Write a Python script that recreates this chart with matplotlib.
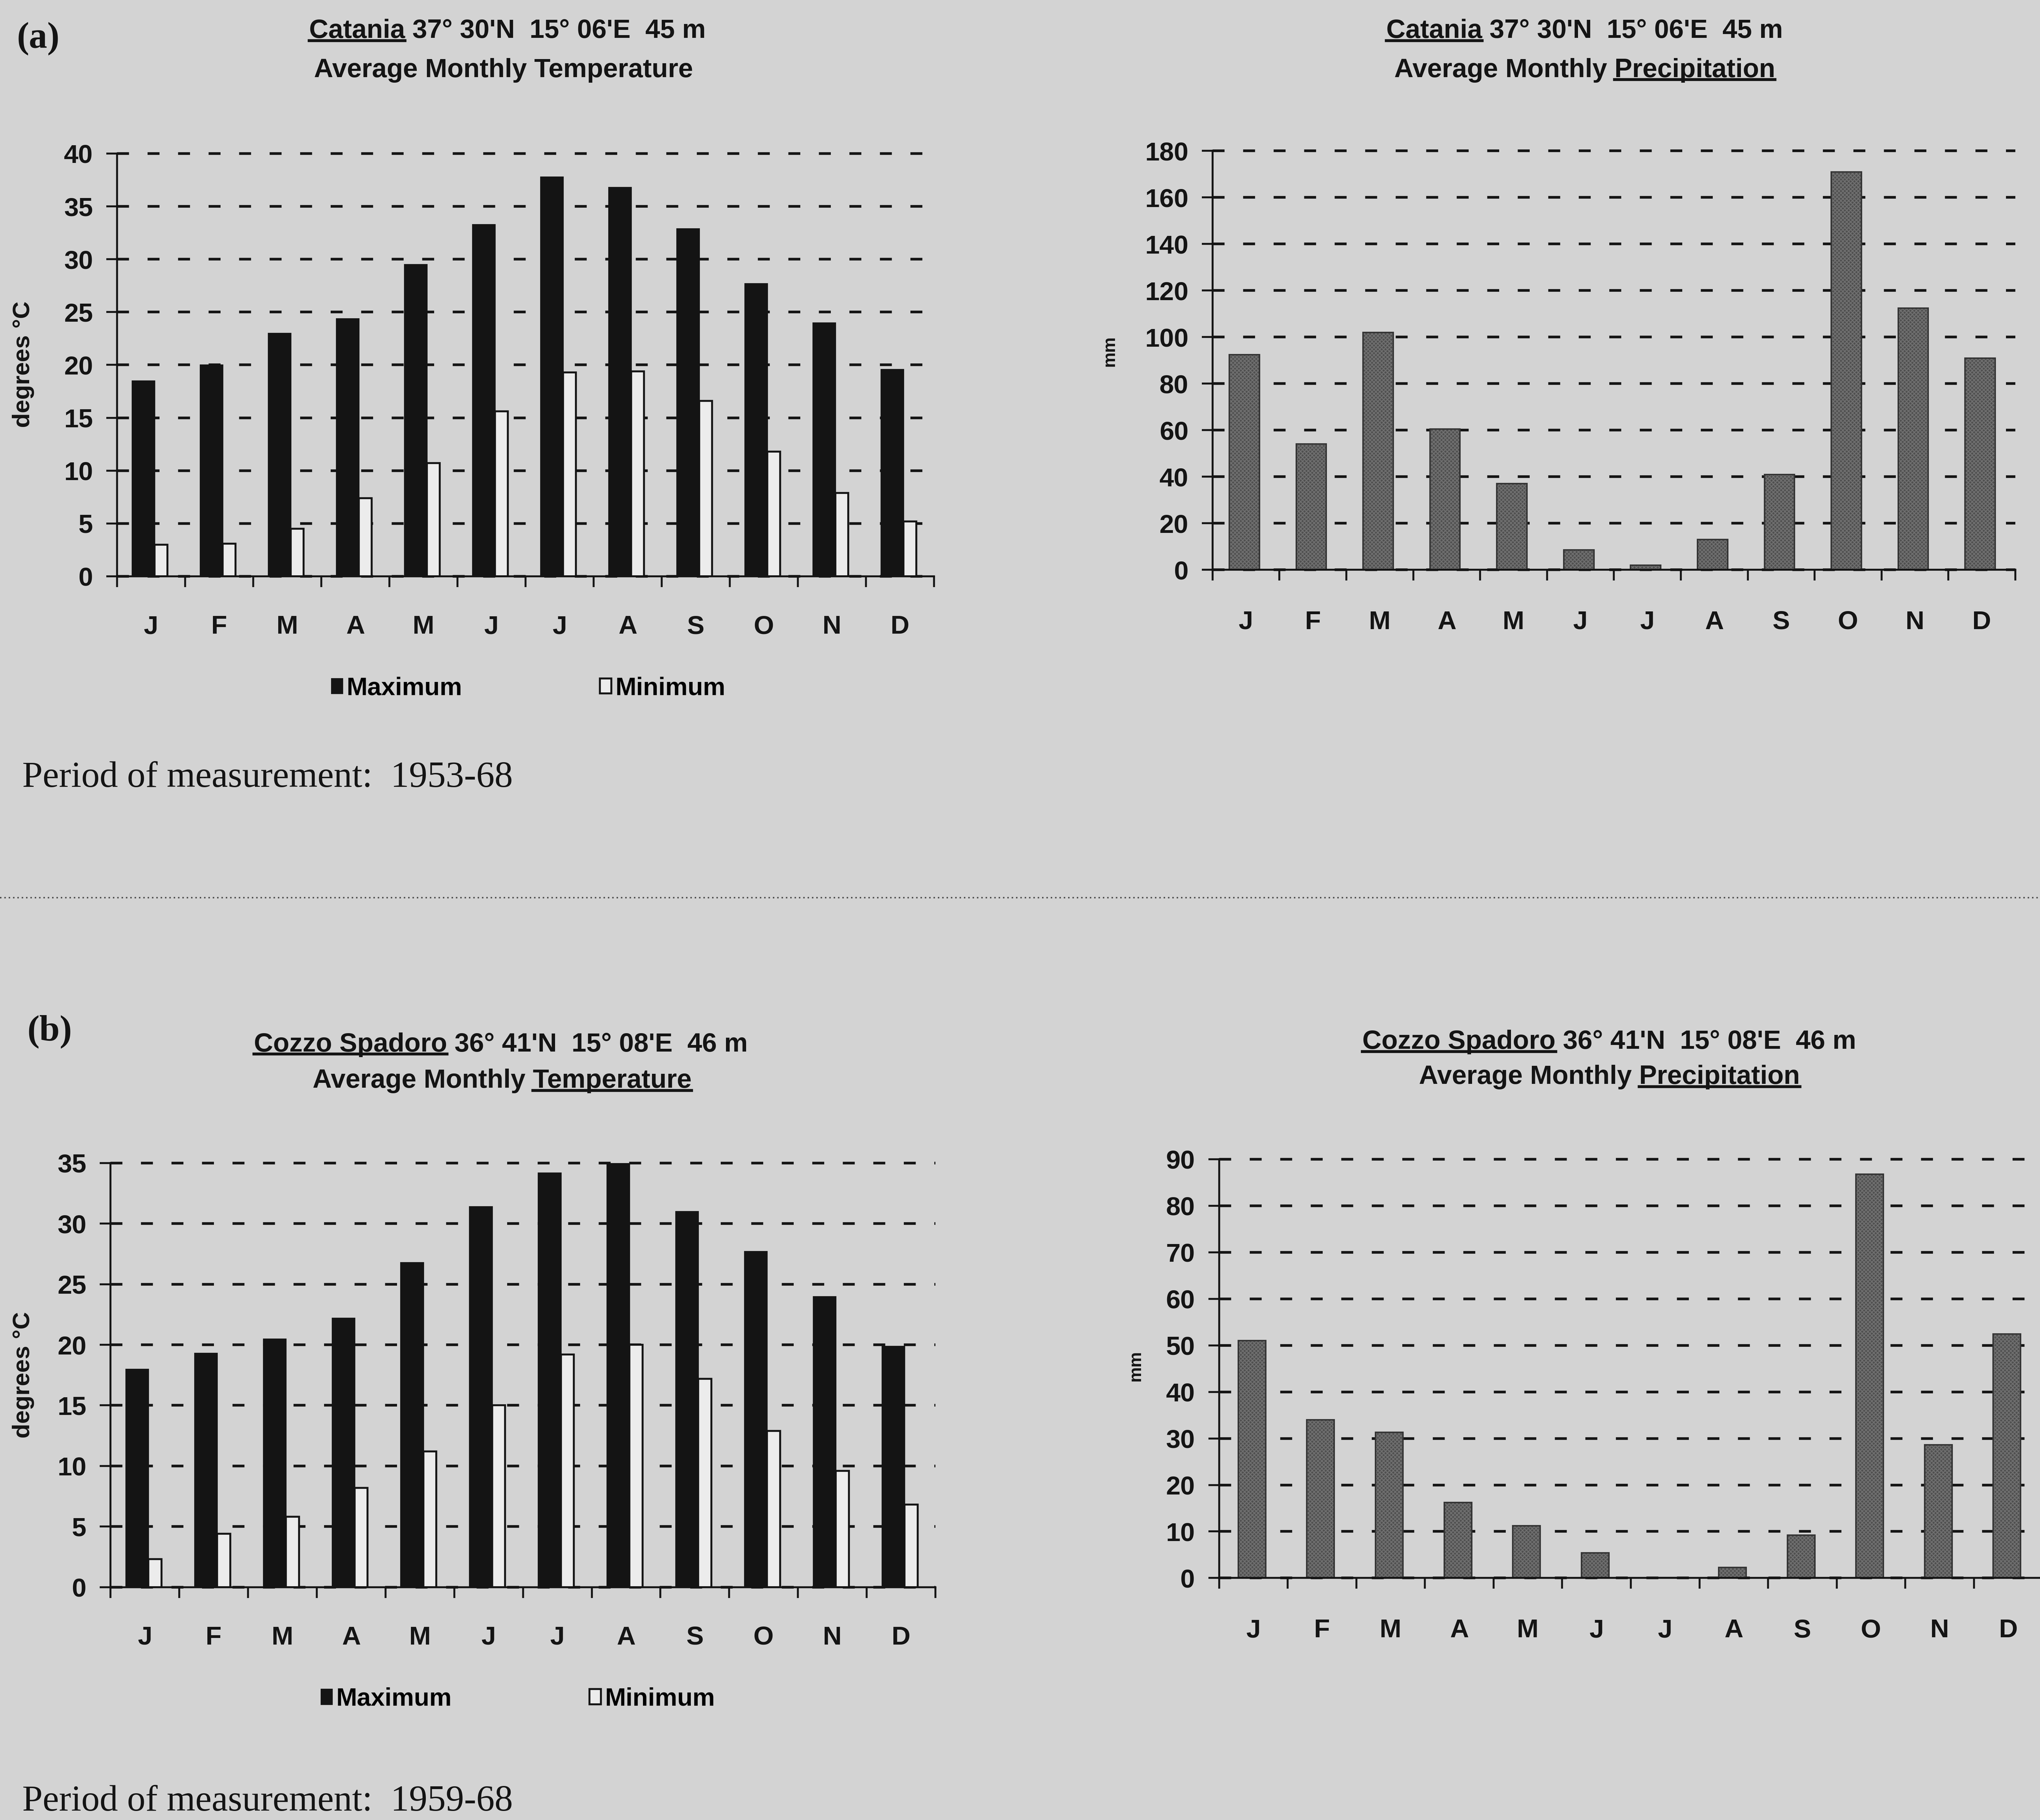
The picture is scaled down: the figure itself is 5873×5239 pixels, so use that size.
import numpy as np
import matplotlib.pyplot as plt
from matplotlib.lines import Line2D

# layout grid (sheet measured in a 1568 x 1399 frame)
W, H = 1568, 1399


def fx(px):
    return px / W


def fy(py):
    return 1 - py / H


def box(left, top, right, bottom):
    return [fx(left), fy(bottom), fx(right) - fx(left), fy(top) - fy(bottom)]


months = ['J', 'F', 'M', 'A', 'M', 'J', 'J', 'A', 'S', 'O', 'N', 'D']

# Catania 1953-68
catania_tmax = [18.5, 20.0, 23.0, 24.4, 29.5, 33.3, 37.8, 36.8, 32.9, 27.7, 24.0, 19.6]
catania_tmin = [3.0, 3.1, 4.5, 7.4, 10.7, 15.6, 19.3, 19.4, 16.6, 11.8, 7.9, 5.2]
catania_rain = [92.5, 54, 102, 60.5, 37, 8.5, 2, 13, 41, 171, 112.5, 91]

# Cozzo Spadoro 1959-68
cozzo_tmax = [18.0, 19.3, 20.5, 22.2, 26.8, 31.4, 34.2, 35.0, 31.0, 27.7, 24.0, 19.9]
cozzo_tmin = [2.3, 4.4, 5.8, 8.2, 11.2, 15.0, 19.2, 20.0, 17.2, 12.9, 9.6, 6.8]
cozzo_rain = [51, 34, 31.3, 16.2, 11.2, 5.4, 0.1, 2.3, 9.2, 86.8, 28.6, 52.4]

BG = '#d3d3d3'
INK = '#141414'

plt.rcParams['font.family'] = ['Liberation Sans', 'DejaVu Sans']
plt.rcParams['hatch.linewidth'] = 2.0

fig = plt.figure(figsize=(58.73, 52.39), dpi=100, facecolor=BG)


def setup_axes(rect, ymax, ystep, month_pad):
    ax = fig.add_axes(rect)
    ax.set_facecolor('none')
    ax.set_xlim(0, 12)
    ax.set_ylim(0, ymax)
    ax.set_yticks(np.arange(0, ymax + 1, ystep))
    ax.yaxis.grid(True, color=INK, lw=5.5, linestyle=(0, (4.5, 7)))
    for gl in ax.get_ygridlines():
        gl.set_clip_on(False)
    ax.set_axisbelow(True)
    for side in ['top', 'right']:
        ax.spines[side].set_visible(False)
    for side in ['left', 'bottom']:
        ax.spines[side].set_linewidth(4)
        ax.spines[side].set_color(INK)
    ax.set_xticks(np.arange(13))
    ax.set_xticklabels([])
    ax.set_xticks(np.arange(12) + 0.5, minor=True)
    ax.set_xticklabels(months, minor=True)
    ax.tick_params(axis='x', which='major', length=22, width=4, color=INK)
    ax.tick_params(axis='x', which='minor', length=0, pad=month_pad,
                   labelsize=54, labelcolor=INK)
    ax.tick_params(axis='y', length=22, width=4, pad=28, labelsize=54,
                   color=INK, labelcolor=INK)
    for lab in ax.get_xticklabels(minor=True) + ax.get_yticklabels():
        lab.set_fontweight('bold')
    return ax


def temp_panel(rect, tmax, tmin, ymax, month_pad):
    ax = setup_axes(rect, ymax, 5, month_pad)
    x = np.arange(12)
    hmax = ax.bar(x + 0.22, tmax, width=0.33, align='edge', color=INK,
                  edgecolor=INK, lw=2)
    hmin = ax.bar(x + 0.55, tmin, width=0.19, align='edge', color='#ececec',
                  edgecolor=INK, lw=4)
    return ax, hmax, hmin


def rain_panel(rect, rain, ymax, ystep, start, width, month_pad):
    ax = setup_axes(rect, ymax, ystep, month_pad)
    x = np.arange(12)
    ax.bar(x + start, rain, width=width, align='edge', color='#4e4e4e',
           edgecolor='#707070', hatch='xxx', lw=0)
    ax.bar(x + start, rain, width=width, align='edge', color='none',
           edgecolor='#333333', lw=3)
    return ax


def title_line(cx, cy, text, ul_lead=None, ul_tail=None, size=55):
    t = fig.text(fx(cx), fy(cy), text, ha='center', va='center',
                 fontsize=size, fontweight='bold', color=INK)
    r = fig.canvas.get_renderer()
    bb = t.get_window_extent(r)
    y = bb.y0 + 0.12 * bb.height
    segs = []
    for word, lead in [(ul_lead, True), (ul_tail, False)]:
        if not word:
            continue
        tmp = fig.text(0, 0, word, fontsize=size, fontweight='bold')
        w = tmp.get_window_extent(r).width
        tmp.remove()
        segs.append((bb.x0, bb.x0 + w) if lead else (bb.x1 - w, bb.x1))
    for x0, x1 in segs:
        fig.add_artist(Line2D([x0 / fig.bbox.width, x1 / fig.bbox.width],
                              [y / fig.bbox.height] * 2,
                              transform=fig.transFigure, color=INK, lw=6))


def legend_at(hmax, hmin, x, y):
    fig.legend([hmax, hmin], ['Maximum', 'Minimum'], loc='center',
               bbox_to_anchor=(fx(x), fy(y)), ncol=2, frameon=False,
               handlelength=0.45, handleheight=0.55,
               handletextpad=0.15, columnspacing=5.5,
               prop={'weight': 'bold', 'size': 52})


# (a) Catania
ax, hmax, hmin = temp_panel(box(90, 118, 718, 443), catania_tmax, catania_tmin, 40, 80)
legend_at(hmax, hmin, 406, 529)
rain_panel(box(932, 116, 1549, 438), catania_rain, 180, 20, 0.25, 0.45, 84)

# (b) Cozzo Spadoro
ax, hmax, hmin = temp_panel(box(85, 894, 719, 1220), cozzo_tmax, cozzo_tmin, 35, 80)
legend_at(hmax, hmin, 398, 1306)
rain_panel(box(937, 891, 1570, 1213), cozzo_rain, 90, 10, 0.28, 0.4, 84)

# axis captions
for x, y in [(18, 280), (18, 1057)]:
    fig.text(fx(x), fy(y), 'degrees °C', rotation=90, ha='center', va='center',
             fontsize=50, fontweight='bold', color=INK)
for x, y in [(853, 270), (873, 1050)]:
    fig.text(fx(x), fy(y), 'mm', rotation=90, ha='center', va='center',
             fontsize=36, fontweight='bold', color=INK)

# titles
title_line(390, 24, "Catania 37° 30'N  15° 06'E  45 m", ul_lead='Catania')
title_line(387, 54, 'Average Monthly Temperature')
title_line(1218, 24, "Catania 37° 30'N  15° 06'E  45 m", ul_lead='Catania')
title_line(1218, 54, 'Average Monthly Precipitation', ul_tail='Precipitation')
title_line(385, 803, "Cozzo Spadoro 36° 41'N  15° 08'E  46 m", ul_lead='Cozzo Spadoro')
title_line(386, 831, 'Average Monthly Temperature', ul_tail='Temperature')
title_line(1237, 801, "Cozzo Spadoro 36° 41'N  15° 08'E  46 m", ul_lead='Cozzo Spadoro')
title_line(1237, 828, 'Average Monthly Precipitation', ul_tail='Precipitation')

serif = ['Liberation Serif', 'DejaVu Serif']
fig.text(fx(13), fy(30), '(a)', ha='left', va='center', fontsize=76,
         fontweight='bold', family=serif, color=INK)
fig.text(fx(21), fy(793), '(b)', ha='left', va='center', fontsize=76,
         fontweight='bold', family=serif, color=INK)
fig.text(fx(17), fy(598), 'Period of measurement:  1953-68', ha='left',
         va='center', fontsize=76, family=serif, color=INK)
fig.text(fx(17), fy(1385), 'Period of measurement:  1959-68', ha='left',
         va='center', fontsize=76, family=serif, color=INK)

# dotted separator between the two stations
fig.add_artist(Line2D([0, 1], [fy(690)] * 2, transform=fig.transFigure,
                      color='#4a4a4a', lw=3, linestyle=(0, (1, 2))))

fig.savefig('out.png', dpi=100, facecolor=BG)
